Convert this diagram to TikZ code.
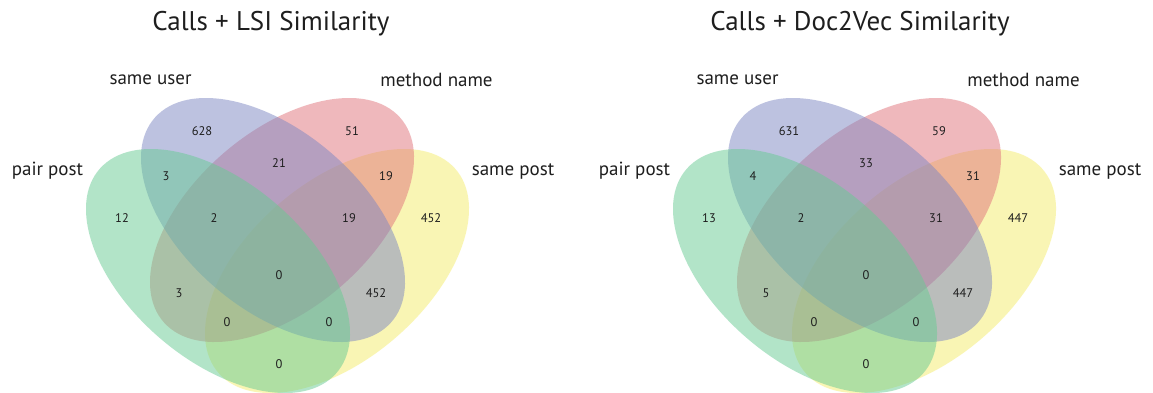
\documentclass[tikz,border=0pt]{standalone}
\usepackage{fontspec}
\setmainfont{PT Sans}
\definecolor{cG}{RGB}{103,203,147}
\definecolor{cB}{RGB}{125,135,195}
\definecolor{cR}{RGB}{225,115,123}
\definecolor{cY}{RGB}{245,237,107}
\definecolor{ink}{RGB}{30,30,30}
\tikzset{
  vset/.style={fill opacity=0.5},
  num/.style={font=\fontsize{12.5}{14}\selectfont, text=ink, inner sep=0pt},
  setlabel/.style={font=\fontsize{19}{22}\selectfont, text=ink, inner sep=0pt},
  ttl/.style={font=\fontsize{27}{32}\selectfont, text=ink, inner sep=0pt},
}
\newcommand\myvenn[1]{%
  \fill[vset, cY, shift={(337,271)}, xscale=463.1, yscale=428, rotate=45] (0,0) ellipse [x radius=0.35pt, y radius=0.2pt];
  \fill[vset, cR, shift={(282,220)}, xscale=463.1, yscale=428, rotate=45] (0,0) ellipse [x radius=0.35pt, y radius=0.2pt];
  \fill[vset, cB, shift={(273,220)}, xscale=463.1, yscale=428, rotate=-45] (0,0) ellipse [x radius=0.35pt, y radius=0.2pt];
  \fill[vset, cG, shift={(218,271)}, xscale=463.1, yscale=428, rotate=-45] (0,0) ellipse [x radius=0.35pt, y radius=0.2pt];
}
\begin{document}
\begin{tikzpicture}[x=1pt,y=-1pt]
\useasboundingbox (0,0) rectangle (1153,392);
\clip (0,0) rectangle (1153,392);
\fill[white] (0,0) rectangle (1153,392);
% left diagram
\myvenn{}
\node[ttl] (t1) at (271,24) {Calls + LSI Similarity};
\node[setlabel] (l1a) at (150.5,80) {same user};
\node[setlabel] (l1b) at (436.5,80) {method name};
\node[setlabel] (l1c) at (47.5,171) {pair post};
\node[setlabel] (l1d) at (513,171) {same post};
\node[num] (a01) at (202,131) {628};
\node[num] (a02) at (352,131) {51};
\node[num] (a03) at (279,163) {21};
\node[num] (a04) at (166,176) {3};
\node[num] (a05) at (386,176) {19};
\node[num] (a06) at (122,218) {12};
\node[num] (a07) at (214,218) {2};
\node[num] (a08) at (349,218) {19};
\node[num] (a09) at (431,218) {452};
\node[num] (a10) at (279,275) {0};
\node[num] (a11) at (179,293) {3};
\node[num] (a12) at (376,293) {452};
\node[num] (a13) at (227,322) {0};
\node[num] (a14) at (329,322) {0};
\node[num] (a15) at (279,364) {0};
% right diagram
\begin{scope}[shift={(587,0)}]
\myvenn{}
\node[ttl] (t2) at (273,24) {Calls + Doc2Vec Similarity};
\node[setlabel] (l2a) at (150.5,80) {same user};
\node[setlabel] (l2b) at (436.5,80) {method name};
\node[setlabel] (l2c) at (47.5,171) {pair post};
\node[setlabel] (l2d) at (513,171) {same post};
\node[num] (b01) at (202,131) {631};
\node[num] (b02) at (352,131) {59};
\node[num] (b03) at (279,163) {33};
\node[num] (b04) at (166,176) {4};
\node[num] (b05) at (386,176) {31};
\node[num] (b06) at (122,218) {13};
\node[num] (b07) at (214,218) {2};
\node[num] (b08) at (349,218) {31};
\node[num] (b09) at (431,218) {447};
\node[num] (b10) at (279,275) {0};
\node[num] (b11) at (179,293) {5};
\node[num] (b12) at (376,293) {447};
\node[num] (b13) at (227,322) {0};
\node[num] (b14) at (329,322) {0};
\node[num] (b15) at (279,364) {0};
\end{scope}
\end{tikzpicture}
\end{document}
